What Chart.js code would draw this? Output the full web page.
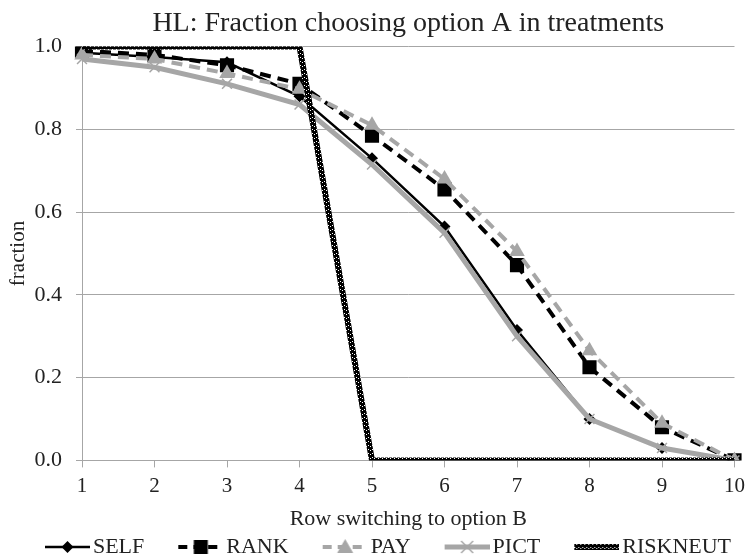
<!DOCTYPE html>
<html>
<head>
<meta charset="utf-8">
<script src="https://cdn.jsdelivr.net/npm/chart.js@4"></script>
<style>
  body { margin: 0; background: #fff; }
  canvas { display: block; }
</style>
</head>
<body>
<canvas id="chart" width="751" height="560"></canvas>
<script>
// Data
const rows = ['1', '2', '3', '4', '5', '6', '7', '8', '9', '10'];
const selfValues = [0.985, 0.975, 0.962, 0.88, 0.73, 0.565, 0.315, 0.10, 0.03, 0.0];
const rankValues = [0.99, 0.98, 0.955, 0.91, 0.785, 0.655, 0.472, 0.225, 0.08, 0.0];
const payValues = [0.98, 0.97, 0.935, 0.897, 0.81, 0.68, 0.505, 0.265, 0.09, 0.0];
const pictValues = [0.97, 0.95, 0.91, 0.86, 0.715, 0.55, 0.30, 0.10, 0.03, 0.0];
const riskneutValues = [1, 1, 1, 1, 0, 0, 0, 0, 0, 0];

const GRAY = '#a6a6a6';
const FONT = "'Liberation Serif', 'DejaVu Serif', serif";

// Helper to make the black/white texture used by RISKNEUT
function makePattern(ctx) {
    const c = document.createElement('canvas');
    c.width = 4;
    c.height = 4;
    const g = c.getContext('2d');
    g.fillStyle = '#000';
    g.fillRect(0, 0, 4, 4);
    g.fillStyle = '#fff';
    g.fillRect(0, 1, 1, 1);
    g.fillRect(2, 2, 1, 1);
    return ctx.createPattern(c, 'repeat');
}

// Helper to draw a little line + marker sample for the legend.
// The canvas is wider than the legend box so the sample sits close to its text.
function legendIcon(stroke, width, dash, marker, markerColor) {
    const c = document.createElement('canvas');
    c.width = 85;
    c.height = 18;
    const g = c.getContext('2d');
    const x0 = 40, x1 = 85, xm = 62.5;
    g.strokeStyle = typeof stroke === 'function' ? stroke(g) : stroke;
    g.lineWidth = width;
    g.setLineDash(dash);
    g.beginPath();
    g.moveTo(x0, 9);
    g.lineTo(x1, 9);
    g.stroke();
    g.setLineDash([]);
    g.fillStyle = markerColor;
    g.strokeStyle = markerColor;
    if (marker === 'diamond') {
        g.beginPath();
        g.moveTo(xm, 3); g.lineTo(xm + 6, 9); g.lineTo(xm, 15); g.lineTo(xm - 6, 9);
        g.closePath();
        g.fill();
    } else if (marker === 'square') {
        g.fillRect(xm - 7, 2, 14, 14);
    } else if (marker === 'triangle') {
        g.beginPath();
        g.moveTo(xm, 1); g.lineTo(xm + 8, 15); g.lineTo(xm - 8, 15);
        g.closePath();
        g.fill();
    } else if (marker === 'cross') {
        g.lineWidth = 1.5;
        g.beginPath();
        g.moveTo(xm - 6, 3); g.lineTo(xm + 6, 15);
        g.moveTo(xm + 6, 3); g.lineTo(xm - 6, 15);
        g.stroke();
    }
    return c;
}

const ctx = document.getElementById('chart').getContext('2d');
const riskPattern = makePattern(ctx);

const legendIcons = [
    legendIcon('#000', 2.5, [], 'diamond', '#000'),
    legendIcon('#000', 4, [9, 6], 'square', '#000'),
    legendIcon(GRAY, 4, [9, 6], 'triangle', GRAY),
    legendIcon(GRAY, 5, [], 'cross', GRAY),
    legendIcon(makePattern, 6, [], null, '#000'),
];

new Chart(ctx, {
    type: 'line',
    data: {
        labels: rows,
        datasets: [
            {
                label: 'SELF',
                data: selfValues,
                borderColor: '#000',
                backgroundColor: '#000',
                borderWidth: 2.5,
                pointStyle: 'rectRot',
                pointRadius: 6,
                pointBorderWidth: 0,
                order: 5,
            },
            {
                label: 'RANK',
                data: rankValues,
                borderColor: '#000',
                backgroundColor: '#000',
                borderWidth: 4,
                borderDash: [11, 7],
                pointStyle: 'rect',
                pointRadius: 10,
                pointBorderWidth: 0,
                order: 4,
            },
            {
                label: 'PAY',
                data: payValues,
                borderColor: GRAY,
                backgroundColor: GRAY,
                borderWidth: 4,
                borderDash: [11, 7],
                pointStyle: 'triangle',
                pointRadius: 9,
                pointBorderWidth: 0,
                order: 3,
            },
            {
                label: 'PICT',
                data: pictValues,
                borderColor: GRAY,
                backgroundColor: GRAY,
                borderWidth: 5,
                pointStyle: 'crossRot',
                pointRadius: 7,
                pointBorderWidth: 1.5,
                order: 2,
            },
            {
                label: 'RISKNEUT',
                data: riskneutValues,
                borderColor: riskPattern,
                backgroundColor: riskPattern,
                borderWidth: 6,
                pointRadius: 0,
                order: 1,
            },
        ],
    },
    options: {
        responsive: false,
        animation: false,
        layout: {
            padding: { left: 1, right: 8, top: 7, bottom: -8 },
        },
        elements: {
            line: { tension: 0 },
        },
        plugins: {
            title: {
                display: true,
                text: 'HL: Fraction choosing option A in treatments',
                color: '#222',
                font: { family: FONT, size: 28, weight: 'normal' },
                fullSize: false,
                padding: { top: 0, bottom: 6 },
            },
            legend: {
                position: 'bottom',
                labels: {
                    usePointStyle: true,
                    pointStyleWidth: 69,
                    color: '#222',
                    padding: 2,
                    font: { family: FONT, size: 22 },
                    generateLabels: (chart) => chart.data.datasets.map((ds, i) => ({
                        text: ds.label,
                        pointStyle: legendIcons[i],
                        fillStyle: 'transparent',
                        strokeStyle: 'transparent',
                        lineWidth: 0,
                        fontColor: '#222',
                        hidden: false,
                        datasetIndex: i,
                    })),
                },
            },
            tooltip: { enabled: false },
        },
        scales: {
            x: {
                offset: false,
                grid: {
                    drawOnChartArea: false,
                    drawTicks: true,
                    tickLength: 7,
                    color: GRAY,
                },
                border: { display: true, color: GRAY },
                ticks: {
                    color: '#222',
                    padding: 6,
                    maxRotation: 0,
                    font: { family: FONT, size: 21 },
                },
                title: {
                    display: true,
                    text: 'Row switching to option B',
                    color: '#222',
                    font: { family: FONT, size: 22 },
                    padding: { top: 1, bottom: 2 },
                },
            },
            y: {
                min: 0,
                max: 1,
                afterFit: (scale) => {
                    scale.width = 81;
                },
                grid: {
                    color: GRAY,
                    tickLength: 6,
                },
                border: { display: true, color: GRAY },
                ticks: {
                    stepSize: 0.2,
                    color: '#222',
                    padding: 14,
                    font: { family: FONT, size: 22 },
                    callback: (v) => v.toFixed(1),
                },
                title: {
                    display: true,
                    text: 'fraction',
                    color: '#222',
                    font: { family: FONT, size: 21 },
                    padding: { top: 5, bottom: 0 },
                },
            },
        },
    },
});
</script>
</body>
</html>
